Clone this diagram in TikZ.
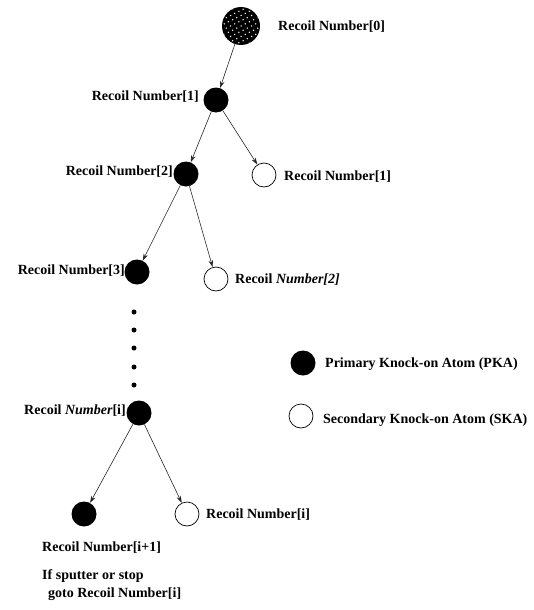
\documentclass[tikz,border=0pt]{standalone}
\usepackage{fontspec}
\setmainfont{Liberation Serif}
\usetikzlibrary{arrows.meta}
\begin{document}
\begin{tikzpicture}[x=1pt,y=-1pt,
  pka/.style={circle,fill=black,minimum size=25pt,inner sep=0pt},
  ska/.style={circle,draw=black,line width=0.7pt,fill=white,minimum size=24pt,inner sep=0pt},
  lbl/.style={font=\fontsize{14}{16}\selectfont\bfseries,inner sep=0pt},
  link/.style={draw=black!85,line width=0.6pt,-{Stealth[length=7pt,width=4.5pt]}},
  dotnode/.style={circle,fill=black,minimum size=5pt,inner sep=0pt},
  speck/.style={fill=white}]
\useasboundingbox (0,0) rectangle (533,610);
% tree nodes
\node[circle,minimum size=38pt,inner sep=0pt,fill=black] (r0) at (241,26) {};
\begin{scope}
  \clip (241,26) circle (18.5);
  \foreach \i in {-5,...,5}{
    \foreach \j in {-5,...,5}{
      \fill[speck] ({241+4.2*\i+2.1*\j},{26+4.2*\j-2.1*\i}) circle (0.75);
    }
  }
\end{scope}
\node[pka] (r1) at (216,100) {};
\node[pka] (r2) at (186,174) {};
\node[ska] (s1) at (264,175) {};
\node[pka] (r3) at (137,272) {};
\node[ska] (s2) at (216,279) {};
\node[dotnode] (d1) at (134,312) {};
\node[dotnode] (d2) at (134,330) {};
\node[dotnode] (d3) at (134,348) {};
\node[dotnode] (d4) at (134,367) {};
\node[dotnode] (d5) at (134,385) {};
\node[pka] (ri) at (139,413) {};
\node[pka] (b1) at (84,514) {};
\node[ska] (b2) at (187,514) {};
% labels
\node[lbl,anchor=mid west] (t0) at (278,28) {Recoil Number[0]};
\node[lbl,anchor=mid east] (t1) at (199,98) {Recoil Number[1]};
\node[lbl,anchor=mid east] (t2) at (173,173) {Recoil Number[2]};
\node[lbl,anchor=mid west] (ts1) at (284,178) {Recoil Number[1]};
\node[lbl,anchor=mid east] (t3) at (125,272) {Recoil Number[3]};
\node[lbl,anchor=mid west] (ts2) at (235,281) {Recoil \textit{Number[2]}};
\node[lbl,anchor=mid east] (ti) at (126,412) {Recoil \textit{Number}[i]};
\node[lbl,anchor=mid west] (tb2) at (206,516) {Recoil Number[i]};
\node[lbl,anchor=mid west] (tb1) at (42,549) {Recoil Number[i+1]};
\node[lbl,anchor=mid west] (tc1) at (42,577) {If sputter or stop};
\node[lbl,anchor=mid west] (tc2) at (48,595) {goto Recoil Number[i]};
% legend
\node[pka] (lp) at (303,363) {};
\node[lbl,anchor=mid west] (lpt) at (325,365) {Primary Knock-on Atom (PKA)};
\node[ska] (ls) at (301,416) {};
\node[lbl,anchor=mid west] (lst) at (323,421) {Secondary Knock-on Atom (SKA)};
% connectors
\draw[link] (r0) -- (r1);
\draw[link] (r1) -- (r2);
\draw[link] (r1) -- (s1);
\draw[link] (r2) -- (r3);
\draw[link] (r2) -- (s2);
\draw[link] (ri) -- (b1);
\draw[link] (ri) -- (b2);
\end{tikzpicture}
\end{document}
